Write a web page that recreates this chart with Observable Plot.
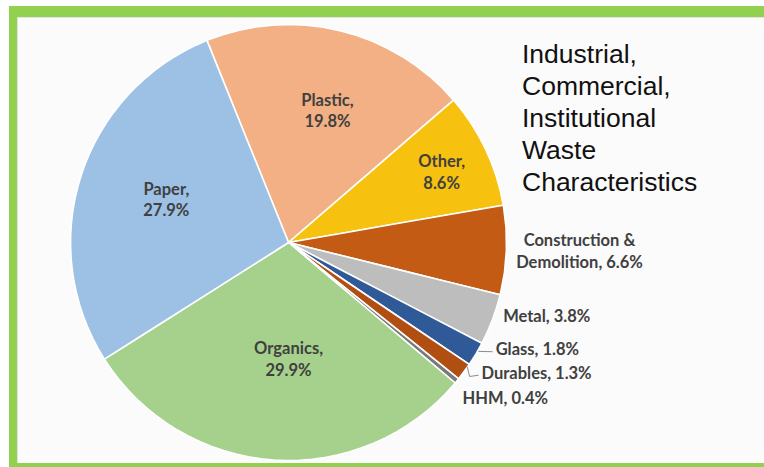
<!DOCTYPE html>
<html>
<head>
<meta charset="utf-8">
<script src="https://cdn.jsdelivr.net/npm/d3@7"></script>
<script src="https://cdn.jsdelivr.net/npm/@observablehq/plot@0.6"></script>
<style>
  html, body { margin: 0; padding: 0; background: #ffffff; width: 764px; height: 467px; overflow: hidden; }
  #frame { position: absolute; left: 9px; top: 6px; width: 760px; height: 461px; background: #92d050; }
  #inner { position: absolute; left: 17px; top: 17px; width: 760px; height: 445px; background: #fbfbfb; border-top: 1px solid #e4e4e4; border-left: 1px solid #e4e4e4; }
  #chart { position: absolute; left: 0; top: 0; }
  #title { position: absolute; left: 522px; top: 38px; font-family: "Liberation Sans", Arial, sans-serif; font-size: 26.5px; line-height: 32px; color: #111; }
</style>
</head>
<body>
<div id="frame"></div>
<div id="inner"></div>
<div id="chart"></div>
<div id="title">Industrial,<br>Commercial,<br>Institutional<br>Waste<br>Characteristics</div>
<script>
// ---- data (clockwise from the top-left edge of the Plastic slice) ----
const categories = ["Plastic", "Other", "Construction &\nDemolition", "Metal", "Glass", "Durables", "HHM", "Organics", "Paper"];
const shares = [19.8, 8.6, 6.6, 3.8, 1.8, 1.3, 0.4, 29.9, 27.9];
const sliceColors = ["#f2b084", "#f6c10f", "#c35b14", "#bdbdbd", "#2f5a97", "#b14f12", "#7a7a7a", "#a6d18c", "#9dc0e5"];

// ---- layout (not data) ----
const startAngle = -22; // degrees clockwise from 12 o'clock
// per label: angle offset from slice middle (deg), radial fraction, text anchor, two-line?
const labelLayout = [
  {da: 2.7, r: 0.636, anchor: "middle", twoLine: true},
  {da: 0.3, r: 0.775, anchor: "middle", twoLine: true},
  {da: -0.5, r: 1.335, anchor: "middle", twoLine: false},
  {da: -1.9, r: 1.04, anchor: "start", twoLine: false},
  {da: -3.7, r: 1.067, anchor: "start", twoLine: false},
  {da: -2.4, r: 1.067, anchor: "start", twoLine: false},
  {da: 2.3, r: 1.069, anchor: "start", twoLine: false},
  {da: -3.9, r: 0.53, anchor: "middle", twoLine: true},
  {da: 2.0, r: 0.596, anchor: "middle", twoLine: true}
];
// leader lines: [angle (deg, clockwise from top), radial fraction]
const leaders = [
  {id: "Glass", pts: [[119.8, 1.005], [118.2, 1.06]]},
  {id: "Durables", pts: [[124.9, 1.0], [126.5, 1.033], [125.0, 1.062]]}
];

// polar (pie) -> lon/lat on a north-polar azimuthal equidistant projection
const lonOf = theta => 180 - theta;
const latOf = r => 90 - 90 * r;

const total = d3.sum(shares);
let acc = startAngle;
const slices = shares.map((v, i) => {
  const a0 = acc, a1 = acc + v / total * 360;
  acc = a1;
  return {i, a0, a1, mid: (a0 + a1) / 2};
});

const features = slices.map(s => ({
  type: "Feature",
  properties: {name: categories[s.i], color: sliceColors[s.i]},
  geometry: {
    type: "Polygon",
    coordinates: [[[lonOf(s.mid), 90], [lonOf(s.a0), 0], [lonOf(s.a1), 0], [lonOf(s.mid), 90]]]
  }
}));

const labels = slices.map(s => {
  const L = labelLayout[s.i];
  const pct = shares[s.i].toFixed(1) + "%";
  const name = categories[s.i];
  return {
    lon: lonOf(s.mid + L.da),
    lat: latOf(L.r),
    anchor: L.anchor,
    text: L.twoLine ? `${name},\n${pct}` : `${name}, ${pct}`
  };
});

const leaderPts = leaders.flatMap(l => l.pts.map(([t, r]) => ({id: l.id, lon: lonOf(t), lat: latOf(r)})));

const textOpts = {
  x: "lon", y: "lat", text: "text",
  fill: "#404040", fontFamily: "Lato, sans-serif", fontWeight: "bold", fontSize: 16.5,
  lineHeight: 1.3
};

const chart = Plot.plot({
  width: 764,
  height: 467,
  marginLeft: 70,
  marginRight: 258,
  marginTop: 24,
  marginBottom: 7,
  style: {background: "transparent", overflow: "visible"},
  projection: {
    type: "azimuthal-equidistant",
    rotate: [0, -90],
    clip: false,
    domain: {type: "FeatureCollection", features}
  },
  color: {type: "identity"},
  marks: [
    Plot.geo(features, {fill: d => d.properties.color, stroke: "#ffffff", strokeWidth: 1.6}),
    Plot.line(leaderPts, {x: "lon", y: "lat", z: "id", stroke: "#8c8c8c", strokeWidth: 1}),
    Plot.text(labels.filter(d => d.anchor === "middle"), {...textOpts, textAnchor: "middle"}),
    Plot.text(labels.filter(d => d.anchor === "start"), {...textOpts, textAnchor: "start"})
  ]
});
document.getElementById("chart").appendChild(chart);
</script>
</body>
</html>
